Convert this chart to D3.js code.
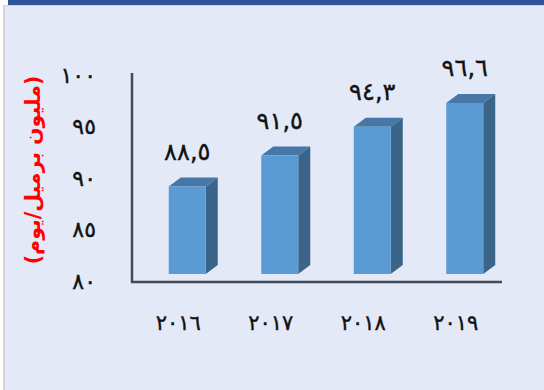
<!DOCTYPE html>
<html><head><meta charset="utf-8">
<script src="https://cdn.jsdelivr.net/npm/d3@7"></script>
<style>html,body{margin:0;padding:0;background:#fff;}svg{display:block;}</style>
</head><body>
<svg id="c" width="544" height="390"></svg>
<script>
const categories = ["2016","2017","2018","2019"];
const categoryLabels = ["٢٠١٦","٢٠١٧","٢٠١٨","٢٠١٩"];
const values = [88.5, 91.5, 94.3, 96.6];
const valueLabels = ["٨٨,٥","٩١,٥","٩٤,٣","٩٦,٦"];
const yTicks = [80, 85, 90, 95, 100];
const yTickLabels = ["٨٠","٨٥","٩٠","٩٥","١٠٠"];
const yTitle = "(مليون برميل/يوم)";

const svg = d3.select("#c");
svg.append("rect").attr("x",3).attr("y",5).attr("width",541).attr("height",385).attr("fill","#d4d4d6");
svg.append("rect").attr("x",5).attr("y",6).attr("width",539).attr("height",384).attr("fill","#e3e9f7");
svg.append("rect").attr("x",8).attr("y",0).attr("width",536).attr("height",5).attr("fill","#2e5597");

const x = d3.scaleBand().domain(categories).range([141, 511]).paddingInner(0.6).paddingOuter(0.3);
const y = d3.scaleLinear().domain([80, 100]).range([274, 68]);
const yBack = d3.scaleLinear().domain([80, 100]).range([281, 75]);
const dx = 12, dy = 9;

svg.append("line").attr("x1",132).attr("x2",132).attr("y1",73).attr("y2",283)
  .attr("stroke","#434a5a").attr("stroke-width",2.5);
svg.append("line").attr("x1",131).attr("x2",502).attr("y1",282).attr("y2",282)
  .attr("stroke","#434a5a").attr("stroke-width",2.5);

svg.append("g").selectAll("text").data(yTicks).join("text")
  .attr("x", 96).attr("y", d => yBack(d)).attr("dy","0.35em")
  .attr("text-anchor","end")
  .attr("font-family","DejaVu Sans").attr("font-size",22).attr("fill","#111")
  .attr("stroke","#111").attr("stroke-width",0.4)
  .text((d,i) => yTickLabels[i]);

const g = svg.append("g");
values.forEach((v, i) => {
  const x0 = x(categories[i]), w = x.bandwidth();
  const top = y(v), bot = y(80);
  g.append("path").attr("d",
    `M${x0+w},${top} L${x0+w+dx},${top-dy} L${x0+w+dx},${bot-dy} L${x0+w},${bot} Z`)
    .attr("fill","#3a6488");
  g.append("path").attr("d",
    `M${x0},${top} L${x0+dx},${top-dy} L${x0+w+dx},${top-dy} L${x0+w},${top} Z`)
    .attr("fill","#4677a6");
  g.append("rect").attr("x",x0).attr("y",top).attr("width",w).attr("height",bot-top)
    .attr("fill","#5b9bd5");
  g.append("text").attr("x", x0 + w/2).attr("y", top - 35).attr("dy","0.35em")
    .attr("text-anchor","middle")
    .attr("font-family","DejaVu Sans").attr("font-size",24).attr("fill","#111")
    .attr("stroke","#111").attr("stroke-width",0.4)
    .text(valueLabels[i]);
});

svg.append("g").selectAll("text").data(categories).join("text")
  .attr("x", d => x(d) + x.bandwidth()/2 - 9).attr("y", 323).attr("dy","0.35em")
  .attr("text-anchor","middle")
  .attr("font-family","DejaVu Sans").attr("font-size",21).attr("fill","#111")
  .attr("stroke","#111").attr("stroke-width",0.4)
  .text((d,i) => categoryLabels[i]);

svg.append("text").attr("transform","translate(33,170) rotate(-90)")
  .attr("text-anchor","middle").attr("dy","0.35em")
  .attr("direction","rtl")
  .attr("font-family","DejaVu Sans").attr("font-weight","bold").attr("font-size",20.5)
  .attr("fill","#ff0000")
  .text(yTitle);
</script>
</body></html>
